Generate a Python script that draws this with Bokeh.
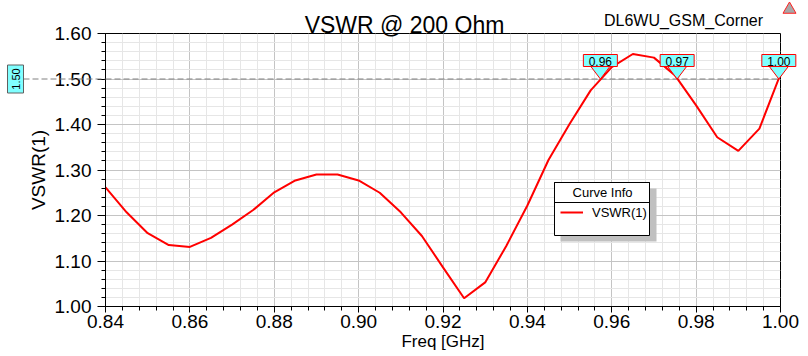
import math
from bokeh.plotting import figure
from bokeh.layouts import column
from bokeh.core.properties import value
from bokeh.models import (Range1d, FixedTicker, PrintfTickFormatter, Label, BoxAnnotation,
                          Legend, LegendItem, Span)
from bokeh.embed import file_html
from bokeh.resources import INLINE

# ---------------- data ----------------
freq_ghz = [0.840, 0.845, 0.850, 0.855, 0.860, 0.865, 0.870, 0.875, 0.880, 0.885,
            0.890, 0.895, 0.900, 0.905, 0.910, 0.915, 0.920, 0.925, 0.930, 0.935,
            0.940, 0.945, 0.950, 0.955, 0.960, 0.965, 0.970, 0.975, 0.980, 0.985,
            0.990, 0.995, 1.000]
vswr = [1.262, 1.207, 1.161, 1.135, 1.131, 1.151, 1.180, 1.212, 1.251, 1.277,
        1.290, 1.290, 1.277, 1.250, 1.207, 1.155, 1.086, 1.018, 1.053, 1.133,
        1.222, 1.322, 1.401, 1.475, 1.526, 1.555, 1.547, 1.508, 1.442, 1.372,
        1.342, 1.391, 1.511]

x_major_ticks = [0.84, 0.86, 0.88, 0.90, 0.92, 0.94, 0.96, 0.98, 1.00]
x_minor_ticks = [round(0.84 + 0.004 * i, 3) for i in range(41)]
y_major_ticks = [1.00, 1.10, 1.20, 1.30, 1.40, 1.50, 1.60]
y_minor_ticks = [round(1.00 + 0.02 * i, 2) for i in range(31)]

marker_freqs = [0.9573, 0.9755, 0.9996]
marker_labels = ["0.96", "0.97", "1.00"]
ref_level = 1.50
ref_label = "1.50"

title_text = "VSWR @ 200 Ohm"
design_name = "DL6WU_GSM_Corner"
x_label = "Freq [GHz]"
y_label = "VSWR(1)"
legend_title = "Curve Info"
series_name = "VSWR(1)"

# ---------------- layout ----------------
W, H = 808, 356
L, R, T, B = 105, 28, 33, 50   # frame borders in page pixels
FRAME_W = W - L - R
FRAME_H = H - T - B
FRAME_BOTTOM = H - B
FONT = "Liberation Sans"
X0, X1 = 0.84, 1.00
Y0, Y1 = 1.00, 1.60
px_x = (X1 - X0) / FRAME_W
px_y = (Y1 - Y0) / FRAME_H
CYAN = "#80ffff"
DASH_GRAY = "#808080"

def page_x(f):  # data x -> page px
    return L + (f - X0) / px_x

def page_y(v):  # data y -> page py
    return FRAME_BOTTOM - (v - Y0) / px_y

def sx(px):  # page px -> frame-relative screen x
    return px - L

def sy(py):  # page py -> frame-relative screen y (upwards)
    return FRAME_BOTTOM - py

# ---------------- main plot ----------------
p = figure(width=W, height=H, output_backend="svg", toolbar_location=None,
           x_range=Range1d(X0, X1), y_range=Range1d(Y0, Y1),
           min_border_left=L, min_border_right=R, min_border_top=T,
           min_border_bottom=B, background_fill_color="white", border_fill_color="white",
           frame_align=False)
p.title.visible = False
p.outline_line_color = "black"
p.outline_line_alpha = 1.0
p.outline_line_width = 1

xt = FixedTicker(ticks=x_major_ticks, minor_ticks=x_minor_ticks)
yt = FixedTicker(ticks=y_major_ticks, minor_ticks=y_minor_ticks)
p.xaxis.ticker = xt
p.yaxis.ticker = yt
p.xgrid.ticker = xt
p.ygrid.ticker = yt
p.xaxis.formatter = PrintfTickFormatter(format="%.2f")
p.yaxis.formatter = PrintfTickFormatter(format="%.2f")

for g in (p.xgrid, p.ygrid):
    g.grid_line_color = "#c4c4c4"
    g.grid_line_width = 1
    g.minor_grid_line_color = "#e6e6e6"
    g.minor_grid_line_width = 1

for ax in (p.xaxis, p.yaxis):
    ax.axis_line_color = "black"
    ax.major_tick_line_color = "black"
    ax.minor_tick_line_color = "black"
    ax.major_tick_in = 0
    ax.minor_tick_in = 0
    ax.major_label_text_font = FONT
    ax.major_label_text_font_size = "19px"
    ax.major_label_text_color = "black"
    ax.axis_label_text_font = FONT
    ax.axis_label_text_font_style = "normal"
    ax.axis_label_text_color = "black"

p.yaxis.major_tick_out = 8
p.yaxis.minor_tick_out = 4
p.yaxis.major_label_standoff = 6
p.yaxis.axis_label = y_label
p.yaxis.axis_label_text_font_size = "19px"
p.yaxis.axis_label_standoff = 3

p.xaxis.major_tick_out = 6
p.xaxis.minor_tick_out = 4
p.xaxis.major_label_standoff = 2
p.xaxis.axis_label = x_label
p.xaxis.axis_label_text_font_size = "17px"
p.xaxis.axis_label_standoff = 1

# reference dashed line at 1.50 inside the frame
p.add_layout(Span(location=ref_level, dimension="width", line_color=DASH_GRAY,
                  line_width=1, line_dash="6 3", level="underlay"))

# curve
r = p.line(freq_ghz, vswr, line_color="#ff0000", line_width=2)

# legend box with shadow
p.add_layout(BoxAnnotation(left=sx(560), right=sx(656), top=sy(188), bottom=sy(241),
                           left_units="screen", right_units="screen",
                           top_units="screen", bottom_units="screen",
                           fill_color="#c0c0c0", fill_alpha=1.0, line_alpha=0))
p.add_layout(BoxAnnotation(left=sx(554), right=sx(649), top=sy(182), bottom=sy(235),
                           left_units="screen", right_units="screen",
                           top_units="screen", bottom_units="screen",
                           fill_color="white", fill_alpha=1.0, line_color="black",
                           line_width=1, line_alpha=1.0))
p.add_layout(BoxAnnotation(left=sx(554), right=sx(649), top=sy(182), bottom=sy(202),
                           left_units="screen", right_units="screen",
                           top_units="screen", bottom_units="screen",
                           fill_alpha=0, line_color="black", line_width=1, line_alpha=1.0))
p.add_layout(Label(x=sx(602), y=sy(192), x_units="screen", y_units="screen",
                   text=legend_title, text_align="center", text_baseline="middle",
                   text_font=FONT, text_font_size="13px", text_color="black"))

legend = Legend(items=[LegendItem(label=series_name, renderers=[r])],
                location=(sx(560), sy(222)), padding=0, margin=0,
                glyph_width=23, glyph_height=20, label_standoff=9,
                label_text_font=FONT, label_text_font_size="13px",
                label_text_color="black", border_line_alpha=0,
                background_fill_alpha=0)
p.add_layout(legend, "center")

# ---------------- transparent overlay (page-pixel coordinates) ----------------
ov = figure(width=W, height=H, output_backend="svg", toolbar_location=None,
            x_range=Range1d(0, W), y_range=Range1d(H, 0),
            x_axis_location=None, y_axis_location=None, min_border=0,
            outline_line_color=None, background_fill_color=None,
            border_fill_color=None, frame_align=False, margin=(-H, 0, 0, 0))
ov.title.visible = False
ov.xgrid.visible = False
ov.ygrid.visible = False

ov.add_layout(Label(x=404, y=24, text=title_text, text_align="center",
                    text_baseline="alphabetic", text_font=FONT, text_font_size="23px",
                    text_color="black"))
ov.add_layout(Label(x=683, y=20, text=design_name, text_align="center",
                    text_baseline="alphabetic", text_font=FONT, text_font_size="16px",
                    text_color="black"))
ov.scatter(x=[789], y=[9], marker="triangle", size=13, fill_color="#a8a8a8",
           line_color="#ff2020", line_width=1)

# 1.50 reference: continuation left of the frame and the rotated tag
ref_py = page_y(ref_level)
ov.line(x=[23, L], y=[ref_py, ref_py], line_color=DASH_GRAY, line_width=1,
        line_dash="6 3")
ov.rect(x=[15], y=[ref_py], width=16, height=28, fill_color=CYAN,
        line_color="#606060", line_width=1)
ov.add_layout(Label(x=15, y=ref_py, text=ref_label, angle=math.pi / 2,
                    text_align="center", text_baseline="middle", text_font=FONT,
                    text_font_size="11px", text_color="black"))

# markers at the 1.50 crossings: V pointer + value box
mx = [page_x(f) for f in marker_freqs]
tip_y = ref_py
box_h, box_w, tri_h, tri_w = 12, 34, 12.5, 19
box_cy = tip_y - tri_h - box_h / 2
ov.patches(xs=[[x - tri_w / 2, x + tri_w / 2, x] for x in mx],
           ys=[[tip_y - tri_h, tip_y - tri_h, tip_y] for _ in mx],
           fill_color=CYAN, line_color="#ff0000", line_width=1)
ov.rect(x=mx, y=[box_cy] * len(mx), width=box_w, height=box_h, fill_color=CYAN,
        line_color="#ff0000", line_width=1)
ov.text(x=mx, y=[box_cy + 0.5] * len(mx), text=marker_labels, text_align="center",
        text_baseline="middle", text_font=value(FONT), text_font_size="12px",
        text_color="black")

page = column(p, ov, spacing=0)
open("out.html", "w").write(file_html(page, INLINE))
